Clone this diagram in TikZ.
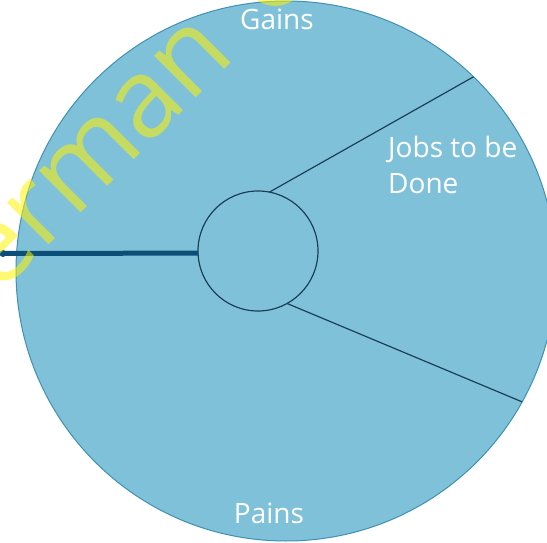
\documentclass[tikz,border=0pt]{standalone}
\usepackage{fontspec}
\setmainfont{Open Sans}
\definecolor{ringfill}{HTML}{80C1DA}
\definecolor{ringedge}{HTML}{3F90B3}
\definecolor{spokeline}{HTML}{1C3F57}
\definecolor{stemline}{HTML}{0B4F79}
\tikzset{x=1pt, y=-1pt,
    ring/.style={circle, draw=ringedge, line width=1pt, fill=ringfill,
        minimum size=540pt, inner sep=0pt, outer sep=0pt},
    hub/.style={circle, draw=spokeline, line width=1.2pt,
        minimum size=120pt, inner sep=0pt, outer sep=0pt},
    spoke/.style={draw=spokeline, line width=1.2pt},
    stem/.style={draw=stemline, line width=5pt},
    sector/.style={text=white, inner sep=0pt, font=\fontsize{28}{36}\selectfont},
    stamp/.style={text=yellow, opacity=0.55, inner sep=0pt, rotate=45,
        font=\fontsize{110}{110}\selectfont},
    }
\begin{document}
\begin{tikzpicture}
\useasboundingbox (0,0) rectangle (547,543);
\clip (0,0) rectangle (547,543);
\node[ring] (profile) at (286,271) {};
\node[hub] (core) at (258,251) {};
% spokes
\draw[spoke] (core.79) -- (profile.46.5);
\draw[spoke] (core.-61) -- (profile.-29.7);
\coordinate (tail) at (3,253.5);
\draw[stem] (core.182.4) -- (tail);
\fill[stemline] (tail) circle (3.5);
% labels
\node[sector, anchor=base] (gains) at (277,30) {Gains};
\node[sector, anchor=base] (pains) at (269,523) {Pains};
\node[sector, anchor=north west, align=left] (jobs) at (388,136) {Jobs to be\\Done};
\node[stamp, anchor=base west] (mark) at (-58,352) {German \hspace{17pt}C};
\end{tikzpicture}
\end{document}
